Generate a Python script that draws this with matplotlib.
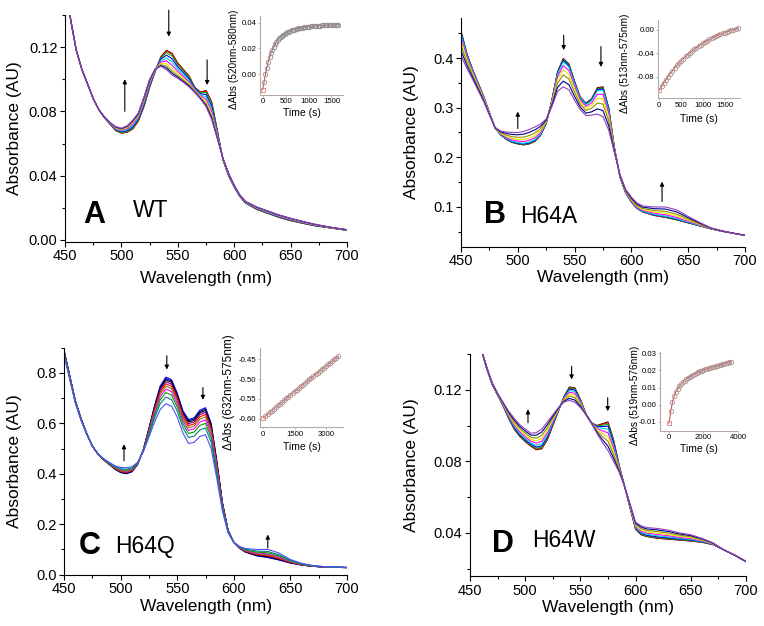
import matplotlib
matplotlib.use('Agg')
import matplotlib.pyplot as plt
from matplotlib.ticker import MultipleLocator, FormatStrFormatter
import numpy as np

plt.rcParams['font.family'] = ['Liberation Sans', 'DejaVu Sans']
plt.rcParams['axes.unicode_minus'] = False

# wavelength grid (nm)
wl = list(range(450, 615, 5)) + list(range(620, 710, 10))

# first and last spectrum of each titration, plus where each recorded scan sits between them
a_start = [0.165, 0.137, 0.118, 0.106, 0.097, 0.088, 0.081, 0.076, 0.072, 0.068,
           0.0665, 0.067, 0.069, 0.074, 0.083, 0.095, 0.105, 0.114, 0.118, 0.116,
           0.110, 0.106, 0.102, 0.095, 0.092, 0.093, 0.086, 0.068, 0.050, 0.040,
           0.033, 0.027, 0.023,
           0.019, 0.0165, 0.014, 0.012, 0.0105, 0.009, 0.008, 0.007, 0.006]
a_end = [0.165, 0.137, 0.118, 0.106, 0.097, 0.088, 0.081, 0.0765, 0.073, 0.0705,
         0.0695, 0.071, 0.0745, 0.079, 0.089, 0.100, 0.1065, 0.108, 0.106, 0.1026,
         0.1005, 0.098, 0.0952, 0.0918, 0.0878, 0.083, 0.075, 0.063, 0.051, 0.0415,
         0.034, 0.028, 0.024,
         0.0205, 0.018, 0.0155, 0.0135, 0.0117, 0.010, 0.0086, 0.0074, 0.0064]
a_frac = [0, 0.03, 0.12, 0.25, 0.4, 0.55, 0.7, 0.82, 0.92, 1.0]

b_start = [0.455, 0.41, 0.378, 0.350, 0.322, 0.290, 0.259, 0.245, 0.236, 0.230,
           0.227, 0.225, 0.227, 0.232, 0.244, 0.268, 0.315, 0.372, 0.399, 0.388,
           0.353, 0.321, 0.309, 0.318, 0.340, 0.342, 0.300, 0.220, 0.160, 0.128,
           0.110, 0.097, 0.090,
           0.083, 0.079, 0.074, 0.068, 0.062, 0.056, 0.051, 0.047, 0.043]
b_end = [0.405, 0.380, 0.358, 0.335, 0.312, 0.285, 0.260, 0.253, 0.251, 0.250,
         0.250, 0.252, 0.256, 0.261, 0.267, 0.277, 0.302, 0.333, 0.342, 0.336,
         0.315, 0.296, 0.284, 0.285, 0.287, 0.282, 0.255, 0.210, 0.165, 0.135,
         0.120, 0.108, 0.102,
         0.100, 0.100, 0.094, 0.081, 0.069, 0.058, 0.052, 0.047, 0.043]
b_frac = [0, 0.02, 0.04, 0.07, 0.12, 0.25, 0.4, 0.58, 0.8, 1.0]

c_start = [0.890, 0.790, 0.690, 0.620, 0.560, 0.510, 0.478, 0.455, 0.437, 0.418,
           0.405, 0.400, 0.408, 0.437, 0.495, 0.580, 0.670, 0.748, 0.783, 0.773,
           0.720, 0.650, 0.615, 0.622, 0.652, 0.662, 0.600, 0.450, 0.285, 0.175,
           0.128, 0.105, 0.090,
           0.075, 0.068, 0.058, 0.046, 0.038, 0.033, 0.030, 0.029, 0.028]
c_end = [0.870, 0.775, 0.680, 0.612, 0.556, 0.510, 0.480, 0.460, 0.445, 0.432,
         0.425, 0.424, 0.428, 0.445, 0.487, 0.545, 0.605, 0.655, 0.678, 0.668,
         0.625, 0.562, 0.520, 0.525, 0.548, 0.555, 0.500, 0.380, 0.250, 0.165,
         0.128, 0.112, 0.104,
         0.100, 0.100, 0.086, 0.060, 0.045, 0.036, 0.032, 0.030, 0.029]
c_frac = [0, 0.05, 0.1, 0.17, 0.25, 0.34, 0.45, 0.58, 0.75, 1.0]

d_start = [0.175, 0.157, 0.143, 0.132, 0.123, 0.117, 0.111, 0.104, 0.098, 0.094,
           0.091, 0.0885, 0.0865, 0.087, 0.092, 0.100, 0.108, 0.116, 0.1215, 0.121,
           0.1145, 0.1065, 0.1015, 0.100, 0.101, 0.102, 0.092, 0.078, 0.066, 0.054,
           0.042, 0.039, 0.038,
           0.037, 0.0365, 0.036, 0.0355, 0.0348, 0.0335, 0.0305, 0.0275, 0.024]
d_end = [0.175, 0.157, 0.143, 0.133, 0.124, 0.118, 0.113, 0.108, 0.104, 0.1005,
         0.098, 0.0957, 0.096, 0.098, 0.102, 0.106, 0.110, 0.113, 0.114, 0.113,
         0.110, 0.106, 0.1012, 0.0955, 0.0905, 0.086, 0.080, 0.074, 0.066, 0.056,
         0.046, 0.044, 0.043,
         0.0425, 0.0415, 0.040, 0.039, 0.037, 0.0345, 0.0305, 0.0275, 0.024]
d_frac = [0, 0.03, 0.08, 0.15, 0.25, 0.38, 0.52, 0.68, 0.85, 1.0]

origin_colors = ['#000000', '#ff0000', '#00b400', '#0000ff', '#00d8d8',
                 '#ff00ff', '#e6e600', '#909000', '#000090', '#9040c0']
c_colors = ['#0000ff', '#000080', '#000000', '#800080', '#ff0000',
            '#808000', '#ff00ff', '#00a000', '#008080', '#5050ff']

# kinetic traces for the insets
a_time = list(range(0, 1680, 30))
a_dabs = [-0.012, -0.006, 0.000, 0.005, 0.0095, 0.0130, 0.0162, 0.0190, 0.0213, 0.0234,
          0.0250, 0.0265, 0.0278, 0.0289, 0.0298, 0.0306, 0.0314, 0.0320, 0.0326, 0.0331,
          0.0336, 0.0340, 0.0344, 0.0347, 0.0350, 0.0353, 0.0356, 0.0358, 0.0360, 0.0362,
          0.0364, 0.0366, 0.0367, 0.0369, 0.0370, 0.0371, 0.0373, 0.0374, 0.0375, 0.0376,
          0.0377, 0.0378, 0.0378, 0.0379, 0.0380, 0.0380, 0.0381, 0.0381, 0.0382, 0.0382,
          0.0383, 0.0383, 0.0383, 0.0384, 0.0384, 0.0385]

b_time = list(range(0, 1850, 50))
b_dabs = [-0.1030, -0.0968, -0.0908, -0.0852, -0.0798, -0.0747, -0.0699, -0.0653, -0.0609,
          -0.0567, -0.0528, -0.0490, -0.0455, -0.0421, -0.0389, -0.0358, -0.0329, -0.0302,
          -0.0275, -0.0251, -0.0227, -0.0204, -0.0183, -0.0163, -0.0143, -0.0125, -0.0108,
          -0.0091, -0.0075, -0.0060, -0.0046, -0.0033, -0.0020, -0.0008, 0.0004, 0.0015,
          0.0025]

c_time = list(range(0, 3700, 100))
c_dabs = [-0.5980, -0.5935, -0.5889, -0.5844, -0.5799, -0.5754, -0.5709, -0.5664, -0.5620,
          -0.5575, -0.5531, -0.5487, -0.5443, -0.5399, -0.5355, -0.5311, -0.5267, -0.5224,
          -0.5180, -0.5137, -0.5094, -0.5051, -0.5008, -0.4965, -0.4923, -0.4880, -0.4838,
          -0.4795, -0.4753, -0.4711, -0.4669, -0.4627, -0.4585, -0.4544, -0.4502, -0.4461,
          -0.4420]

d_time = list(range(0, 3700, 100))
d_dabs = [-0.0110, -0.0040, 0.0015, 0.0050, 0.0075, 0.0093, 0.0108, 0.0121, 0.0132, 0.0141,
          0.0149, 0.0156, 0.0163, 0.0169, 0.0175, 0.0180, 0.0185, 0.0190, 0.0194, 0.0198,
          0.0202, 0.0206, 0.0209, 0.0213, 0.0216, 0.0219, 0.0222, 0.0225, 0.0228, 0.0231,
          0.0234, 0.0237, 0.0240, 0.0243, 0.0246, 0.0249, 0.0252]


fig = plt.figure(figsize=(7.64, 6.26), dpi=100)


def draw_panel(rect, start, end, frac, colors, ylim, yminor, yfmt, yticks,
               letter, name, letter_pos, name_pos, arrows, ylab_x, xlab_y):
    ax = fig.add_axes(rect)
    start = np.array(start)
    end = np.array(end)
    for f, c in zip(frac, colors):
        ax.plot(wl, start + f * (end - start), color=c, lw=0.8)
    ax.set_xlim(450, 700)
    ax.set_ylim(*ylim)
    ax.xaxis.set_major_locator(MultipleLocator(50))
    ax.xaxis.set_minor_locator(MultipleLocator(25))
    ax.set_yticks(yticks)
    ax.yaxis.set_minor_locator(MultipleLocator(yminor))
    ax.yaxis.set_major_formatter(FormatStrFormatter(yfmt))
    for s in ['top', 'right']:
        ax.spines[s].set_visible(False)
    for s in ['left', 'bottom']:
        ax.spines[s].set_linewidth(0.8)
    ax.tick_params(which='major', direction='out', length=3.5, width=0.8,
                   labelsize=10.5, pad=2)
    ax.tick_params(which='minor', direction='out', length=2.2, width=0.8)
    ax.set_xlabel('Wavelength (nm)', fontsize=12.5)
    ax.set_ylabel('Absorbance (AU)', fontsize=12.5)
    ax.yaxis.set_label_coords(ylab_x, 0.5)
    ax.xaxis.set_label_coords(0.5, xlab_y)
    ax.text(letter_pos[0], letter_pos[1], letter, transform=ax.transAxes,
            fontsize=22, fontweight='bold', va='baseline')
    ax.text(name_pos[0], name_pos[1], name, transform=ax.transAxes,
            fontsize=16.5, va='baseline')
    for x, y0, y1 in arrows:
        ax.annotate('', xy=(x, y1), xytext=(x, y0), annotation_clip=False,
                    arrowprops=dict(arrowstyle='-|>', color='black', lw=0.8,
                                    mutation_scale=6, shrinkA=0, shrinkB=0))
    return ax


def draw_inset(rect, t, v, xlim, ylim, xticks, yticks, yfmt, ylabel, mcolor,
               ylab_x, xlab_y, ylab_size):
    ax = fig.add_axes(rect)
    ax.plot(t, v, color='#d04040', lw=0.7, zorder=1)
    ax.plot(t[1:], v[1:], 'o', mfc='none', mec=mcolor, ms=3.2, mew=0.6, zorder=2)
    ax.plot(t[:1], v[:1], 's', mfc='none', mec='#d08080', ms=3.2, mew=0.6, zorder=2)
    ax.set_xlim(*xlim)
    ax.set_ylim(*ylim)
    ax.set_xticks(xticks)
    ax.set_yticks(yticks)
    ax.yaxis.set_major_formatter(FormatStrFormatter(yfmt))
    for s in ['top', 'right']:
        ax.spines[s].set_visible(False)
    for s in ['left', 'bottom']:
        ax.spines[s].set_color('#b8a8a8')
        ax.spines[s].set_linewidth(0.8)
    ax.tick_params(direction='out', length=1.5, width=0.6, color='#b8a8a8',
                   labelsize=5.6, pad=1)
    ax.patch.set_alpha(0)
    ax.set_xlabel('Time (s)', fontsize=7.5)
    ax.set_ylabel(ylabel, fontsize=ylab_size)
    ax.yaxis.set_label_coords(ylab_x, 0.45)
    ax.xaxis.set_label_coords(0.5, xlab_y)
    return ax


draw_panel([0.0851, 0.6139, 0.3691, 0.3622], a_start, a_end, a_frac, origin_colors,
           (-0.0011, 0.14), 0.02, '%.2f', [0.0, 0.04, 0.08, 0.12],
           'A', 'WT', (0.064, 0.084), (0.241, 0.11),
           [(503, 0.080, 0.100), (542, 0.143, 0.1265), (576, 0.112, 0.0964)],
           -0.152, -0.13)

draw_panel([0.6034, 0.6059, 0.3717, 0.3649], b_start, b_end, b_frac, origin_colors,
           (0.02, 0.48), 0.05, '%.1f', [0.1, 0.2, 0.3, 0.4],
           'B', 'H64A', (0.080, 0.105), (0.209, 0.105),
           [(500, 0.258, 0.292), (540.4, 0.446, 0.416), (573.2, 0.423, 0.382),
            (627, 0.111, 0.151)],
           -0.149, -0.1)

draw_panel([0.0838, 0.0820, 0.3704, 0.3626], c_start, c_end, c_frac, c_colors,
           (0.0, 0.9), 0.1, '%.1f', [0.0, 0.2, 0.4, 0.6, 0.8],
           'C', 'H64Q', (0.051, 0.089), (0.18, 0.097),
           [(503, 0.451, 0.517), (540.8, 0.868, 0.813), (572.7, 0.742, 0.693),
            (630, 0.106, 0.159)],
           -0.148, -0.105)

draw_panel([0.6152, 0.0794, 0.3613, 0.3556], d_start, d_end, d_frac, origin_colors,
           (0.0158, 0.1401), 0.02, '%.2f', [0.04, 0.08, 0.12],
           'D', 'H64W', (0.080, 0.107), (0.225, 0.133),
           [(502.5, 0.1015, 0.109), (542, 0.133, 0.1257), (574.7, 0.1155, 0.108)],
           -0.186, -0.105)

draw_inset([0.3403, 0.8482, 0.1086, 0.1262], a_time, a_dabs, (-60, 1750), (-0.0163, 0.0452),
           [0, 500, 1000, 1500], [0.00, 0.02, 0.04], '%.2f', '\u0394Abs (520nm-580nm)',
           '#909090', -0.255, -0.17, 7.3)
draw_inset([0.8609, 0.8430, 0.1077, 0.1251], b_time, b_dabs, (-37, 1850), (-0.117, 0.017),
           [0, 500, 1000, 1500], [-0.08, -0.04, 0.00], '%.2f', '\u0394Abs (513nm-575nm)',
           '#b09090', -0.34, -0.2, 7.3)
draw_inset([0.3403, 0.3174, 0.1090, 0.1262], c_time, c_dabs, (-160, 3830), (-0.622, -0.422),
           [0, 1500, 3000], [-0.60, -0.55, -0.50, -0.45], '%.2f', '\u0394Abs (632nm-575nm)',
           '#b09090', -0.30, -0.19, 8.5)
draw_inset([0.8639, 0.3120, 0.1020, 0.1257], d_time, d_dabs, (-520, 4000), (-0.0153, 0.0308),
           [0, 2000, 4000], [-0.01, 0.00, 0.01, 0.02, 0.03], '%.2f', '\u0394Abs (519nm-576nm)',
           '#b09090', -0.26, -0.17, 7.3)

fig.savefig('out.png', dpi=100)
